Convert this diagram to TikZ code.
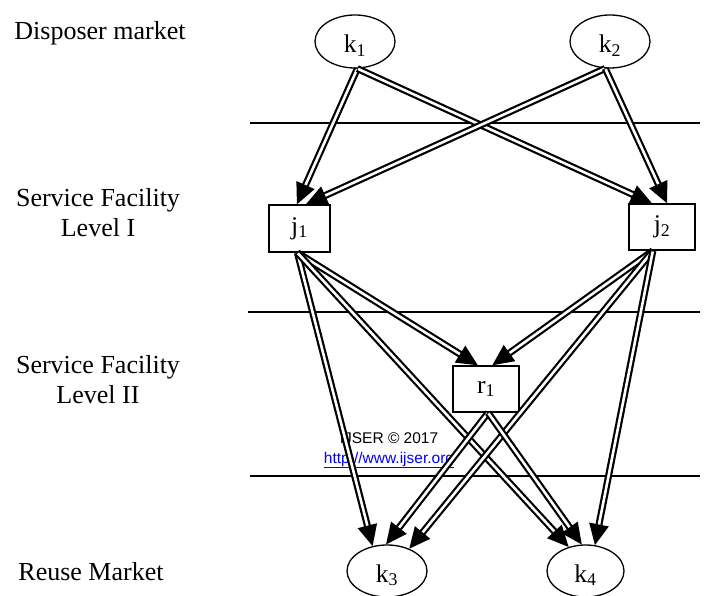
\documentclass[tikz,border=0pt]{standalone}
\usepackage{fontspec}
\setmainfont{Liberation Serif}
\newfontfamily\arialfont{Liberation Sans}
\usetikzlibrary{arrows.meta,shapes.geometric,decorations.markings}

\tikzset{
  market/.style={ellipse, draw, line width=1.3pt, minimum width=80pt,
    minimum height=53pt, inner sep=0pt, font=\fontsize{25.5}{30}\selectfont},
  facility/.style={rectangle, draw, line width=1.5pt, minimum width=64pt,
    minimum height=46pt, inner sep=0pt, font=\fontsize{25.5}{30}\selectfont},
  % double-stroked flow: a wide black stroke hollowed out by a white one,
  % ending in a large filled triangular head
  flow/.style={line width=7pt, shorten >=17pt,
    postaction={draw=white, line width=2.6pt, shorten >=19pt, shorten <=0.8pt},
    postaction={decorate, decoration={markings,
      mark=at position 1 with {\fill (0,0) -- (-21pt,10pt) -- (-21pt,-10pt) -- cycle;}}}},
  tier/.style={line width=1.3pt},
  levellabel/.style={anchor=base, align=center, inner sep=0pt,
    font=\fontsize{26}{30}\selectfont},
  footnote/.style={anchor=base, inner sep=0pt, font=\arialfont\fontsize{15.5}{18}\selectfont}
}
% label set on a line a little below the node centre
\newcommand{\lowered}[1]{\raisebox{-11pt}[0pt][0pt]{#1}}

\begin{document}
\begin{tikzpicture}[x=1pt, y=-1pt]
\useasboundingbox (0,0) rectangle (707,596);

% tier separators
\draw[tier] (250,123) -- (700,123);
\draw[tier] (248,312) -- (700,312);
\draw[tier] (250,476) -- (700,476);

% level names on the left
\node[levellabel] (lab1) at (100,40) {Disposer market};
\node[levellabel] (lab2) at (98,237) {Service Facility\\Level I};
\node[levellabel] (lab3) at (98,403) {Service Facility\\Level II};
\node[levellabel] (lab4) at (91,580) {Reuse Market};

% footer text
\node[footnote] (copy) at (389,443) {IJSER \textcopyright{} 2017};
\node[footnote, text=blue] (url) at (389,463) {\underline{http://www.ijser.org}};

% network nodes
\node[market] (k1) at (355,41.5) {\lowered{k\textsubscript{1}}};
\node[market] (k2) at (610,41.5) {\lowered{k\textsubscript{2}}};
\node[facility, minimum width=61pt, minimum height=47pt] (j1) at (299.5,228.5) {j\textsubscript{1}};
\node[facility, minimum width=66pt] (j2) at (662,227) {j\textsubscript{2}};
\node[facility, minimum width=66pt] (r1) at (486,389) {r\textsubscript{1}};
\node[market, minimum height=52pt] (k3) at (387,571) {\lowered{k\textsubscript{3}}};
\node[market, minimum width=77pt, minimum height=52pt] (k4) at (585.5,571) {\lowered{k\textsubscript{4}}};

% flows from the disposer markets
\draw[flow] (k1.-85) -- (j1.96);
\draw[flow] (k1.-85) -- (j2.113);
\draw[flow] (k2.-100) -- (j1.75);
\draw[flow] (k2.-100) -- (j2.78);

% flows from level I facilities
\draw[flow] (j1.-95) -- (r1.109);
\draw[flow] (j1.-95) -- (k3.120);
\draw[flow] (j1.-95) -- (k4.125);
\draw[flow] (j2.-111) -- (r1.75);
\draw[flow] (j2.-111) -- (k3.45);
\draw[flow] (j2.-111) -- (k4.70);

% flows from the level II facility
\draw[flow] (r1.-85) -- (k3.92);
\draw[flow] (r1.-85) -- (k4.98);
\end{tikzpicture}
\end{document}
